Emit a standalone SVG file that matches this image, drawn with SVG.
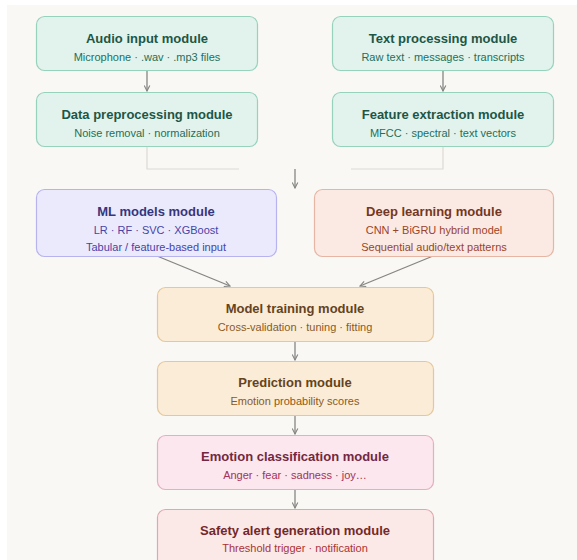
<svg xmlns="http://www.w3.org/2000/svg" width="577" height="560" viewBox="0 0 577 560">
<defs>
<marker id="ah" viewBox="0 0 10 10" refX="9" refY="5" markerWidth="7" markerHeight="7" orient="auto" markerUnits="userSpaceOnUse">
<path d="M1,1 L9,5 L1,9" fill="none" stroke="#858583" stroke-width="1.6"/>
</marker>
<style>
text{font-family:"Liberation Sans",Arial,sans-serif;text-anchor:middle}
.t{font-size:13px;font-weight:600}
.s{font-size:11px}
.box{stroke-width:1.2}
.g rect{fill:#e1f3ec;stroke:#97d2bd}
.g .t{fill:#1e5646}
.g .s{fill:#23705a}
.v rect{fill:#ebeafc;stroke:#b7b3ef}
.v .t{fill:#36367e}
.v .s{fill:#4843a8}
.o rect{fill:#fbeae3;stroke:#e6b5a3}
.o .t{fill:#743722}
.o .s{fill:#9c4427}
.y rect{fill:#fbecd8;stroke:#e7c796}
.y .t{fill:#64431d}
.y .s{fill:#8a5a1e}
.p rect{fill:#fbe7ed;stroke:#e6afc0}
.p .t{fill:#732842}
.p .s{fill:#a33358}
.r rect{fill:#fbe9e8;stroke:#e2a6ab}
.r .t{fill:#742828}
.r .s{fill:#ab3232}
.c{stroke:#858583;stroke-width:1.3;fill:none}
.l{stroke:#dcdad5;stroke-width:1.2;fill:none}
</style>
</defs>
<rect x="0" y="0" width="577" height="560" fill="#ffffff"/>
<rect x="7" y="5" width="570" height="555" fill="#f9f8f5"/>

<g id="connectors">
<path class="l" d="M147,147 V169 H239"/>
<path class="l" d="M443,147 V169 H351"/>
<line class="c" x1="147" y1="70" x2="147" y2="91" marker-end="url(#ah)"/>
<line class="c" x1="443" y1="70" x2="443" y2="91" marker-end="url(#ah)"/>
<line class="c" x1="295" y1="169" x2="295" y2="188" marker-end="url(#ah)"/>
<line class="c" x1="157" y1="256" x2="230" y2="286" marker-end="url(#ah)"/>
<line class="c" x1="433" y1="256" x2="360" y2="286" marker-end="url(#ah)"/>
<line class="c" x1="295" y1="341" x2="295" y2="360" marker-end="url(#ah)"/>
<line class="c" x1="295" y1="415" x2="295" y2="434" marker-end="url(#ah)"/>
<line class="c" x1="295" y1="489" x2="295" y2="508" marker-end="url(#ah)"/>
</g>

<g id="audio-input" class="g">
<rect class="box" x="36.5" y="16.5" width="221" height="54" rx="8"/>
<text class="t" x="147" y="43">Audio input module</text>
<text class="s" x="147" y="61">Microphone · .wav · .mp3 files</text>
</g>
<g id="text-processing" class="g">
<rect class="box" x="332.5" y="16.5" width="221" height="54" rx="8"/>
<text class="t" x="443" y="43">Text processing module</text>
<text class="s" x="443" y="61">Raw text · messages · transcripts</text>
</g>
<g id="data-preprocessing" class="g">
<rect class="box" x="36.5" y="92.5" width="221" height="54" rx="8"/>
<text class="t" x="147" y="119">Data preprocessing module</text>
<text class="s" x="147" y="137">Noise removal · normalization</text>
</g>
<g id="feature-extraction" class="g">
<rect class="box" x="332.5" y="92.5" width="221" height="54" rx="8"/>
<text class="t" x="443" y="119">Feature extraction module</text>
<text class="s" x="443" y="137">MFCC · spectral · text vectors</text>
</g>
<g id="ml-models" class="v">
<rect class="box" x="36.5" y="189.5" width="240" height="67" rx="8"/>
<text class="t" x="156" y="216">ML models module</text>
<text class="s" x="156" y="234">LR · RF · SVC · XGBoost</text>
<text class="s" x="156" y="251">Tabular / feature-based input</text>
</g>
<g id="deep-learning" class="o">
<rect class="box" x="314.5" y="189.5" width="239" height="67" rx="8"/>
<text class="t" x="434" y="216">Deep learning module</text>
<text class="s" x="434" y="234">CNN + BiGRU hybrid model</text>
<text class="s" x="434" y="251">Sequential audio/text patterns</text>
</g>
<g id="model-training" class="y">
<rect class="box" x="157.5" y="287.5" width="276" height="54" rx="8"/>
<text class="t" x="295" y="313">Model training module</text>
<text class="s" x="295" y="331">Cross-validation · tuning · fitting</text>
</g>
<g id="prediction" class="y">
<rect class="box" x="157.5" y="361.5" width="276" height="54" rx="8"/>
<text class="t" x="295" y="387">Prediction module</text>
<text class="s" x="295" y="405">Emotion probability scores</text>
</g>
<g id="emotion-classification" class="p">
<rect class="box" x="157.5" y="435.5" width="276" height="54" rx="8"/>
<text class="t" x="295" y="461">Emotion classification module</text>
<text class="s" x="295" y="479">Anger · fear · sadness · joy…</text>
</g>
<g id="safety-alert" class="r">
<rect class="box" x="157.5" y="509.5" width="276" height="60" rx="8"/>
<text class="t" x="295" y="535">Safety alert generation module</text>
<text class="s" x="295" y="552">Threshold trigger · notification</text>
</g>
</svg>
